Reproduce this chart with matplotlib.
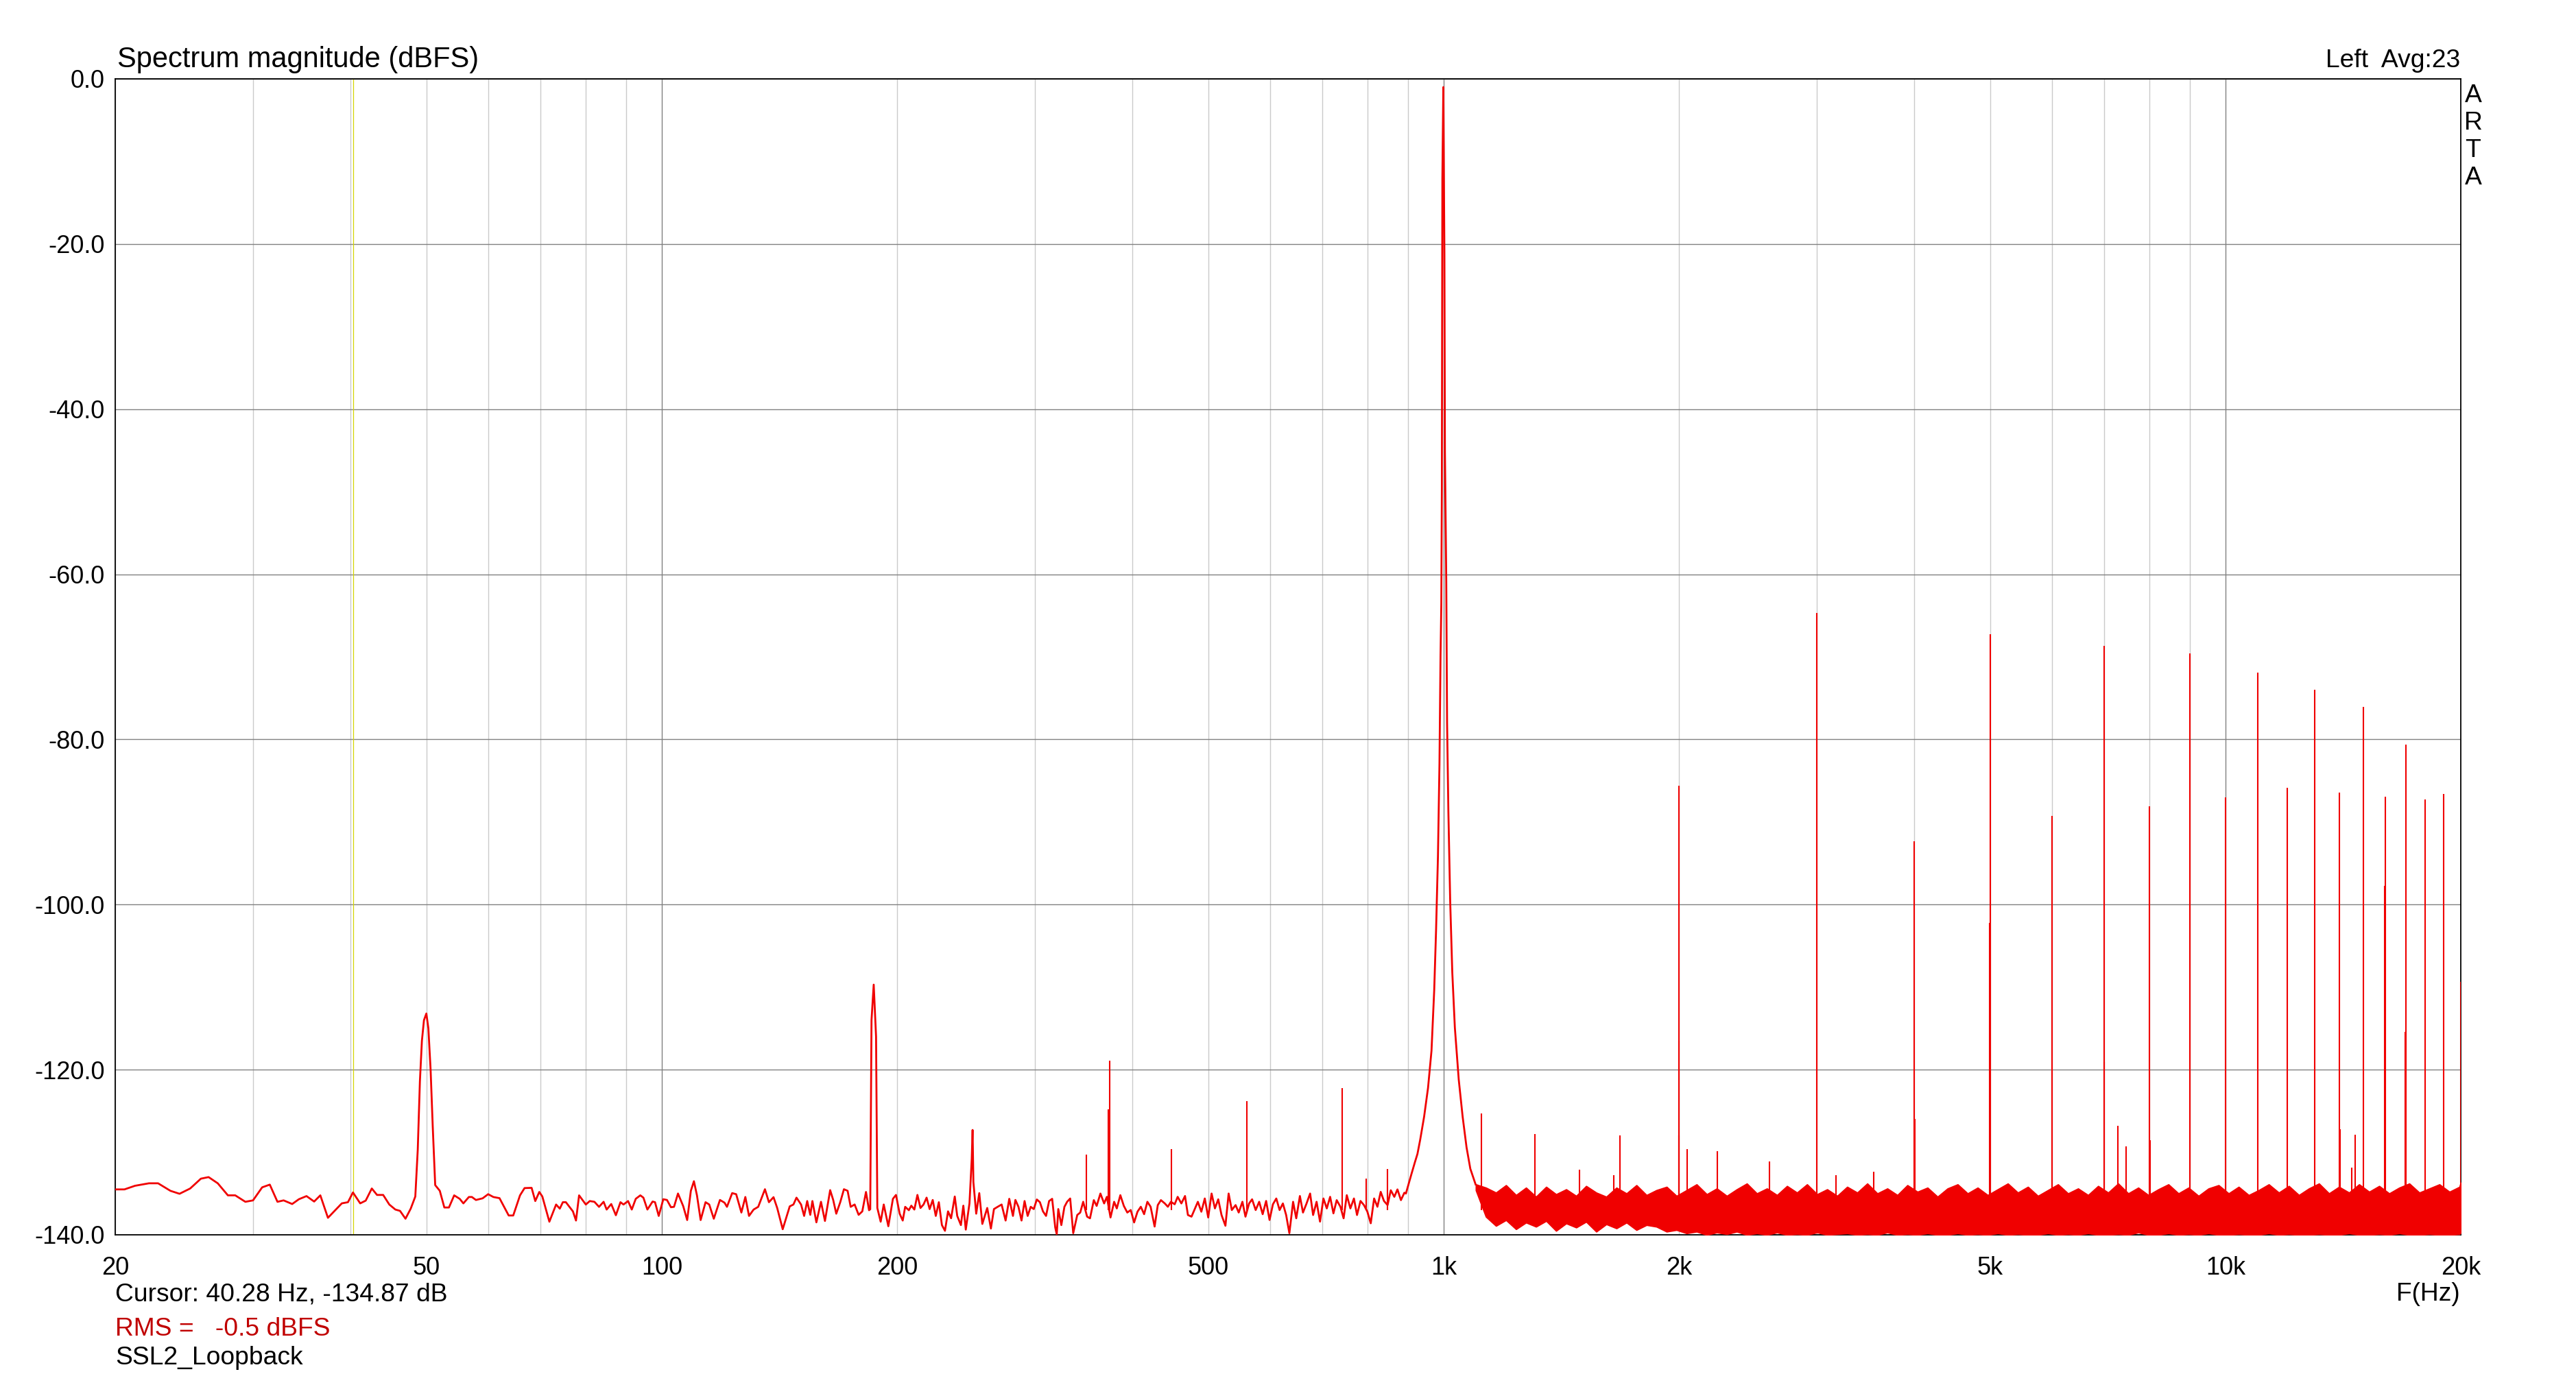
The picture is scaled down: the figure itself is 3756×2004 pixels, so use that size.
import matplotlib
matplotlib.use("Agg")
import matplotlib.pyplot as plt

plt.rcParams['font.family'] = ['Liberation Sans', 'DejaVu Sans']

W, H = 3756, 2004

# spectrum trace, 20 Hz - 80 Hz (incl. 50 Hz hum)
lf_freq = [20.0, 20.55, 21.2, 22.09, 22.69, 23.53, 24.17, 24.94, 25.74, 26.33,
           27.05, 27.87, 28.48, 29.34, 30.01, 30.83, 31.53, 32.25, 32.84, 33.68,
           34.35, 35.13, 35.93, 36.59, 37.42, 38.11, 38.98, 39.69, 40.28, 41.15,
           41.82, 42.58, 43.24, 44.03, 44.83, 45.64, 46.27, 47.02, 47.75, 48.40,
           48.75, 49.06, 49.35, 49.65, 50.0, 50.3, 50.63, 50.95, 51.32, 52.02,
           52.72, 53.44, 54.27, 55.16, 55.76, 56.67, 57.18, 57.86, 59.01, 59.98,
           60.91, 62.02, 63.72, 64.58, 65.88, 66.77, 68.17, 68.91, 69.73, 70.36,
           71.83, 73.27, 74.07, 74.74, 75.41, 76.99, 77.69, 78.40, 79.97, 80.91]
lf_db = [-134.5, -134.5, -134.06, -133.76, -133.76, -134.67, -135.03, -134.39, -133.20, -133.01,
         -133.76, -135.22, -135.22, -136.0, -135.83, -134.25, -133.92, -136.0, -135.83, -136.27,
         -135.69, -135.31, -135.97, -135.22, -137.94, -137.16, -136.19, -136.05, -134.87, -136.19,
         -135.86, -134.39, -135.17, -135.17, -136.33, -136.94, -137.1, -138.05, -136.83, -135.36,
         -129.69, -121.4, -116.5, -114.0, -113.2, -115.0, -120.0, -126.9, -133.98, -134.67,
         -136.69, -136.69, -135.22, -135.64, -136.19, -135.42, -135.42, -135.78, -135.58, -135.08,
         -135.42, -135.56, -137.66, -137.66, -135.22, -134.34, -134.31, -135.91, -134.81, -135.36,
         -138.41, -136.33, -136.83, -136.05, -136.05, -137.16, -138.27, -135.22, -136.33, -135.91]

# 80 Hz - 330 Hz
mid1_freq = [82.02, 83.14, 84.27, 85.03, 86.19, 87.37, 88.56, 89.36, 90.57, 91.56,
             92.64, 93.90, 94.75, 95.87, 97.35, 98.05, 99.12, 100.47, 101.56, 102.76,
             103.69, 104.91, 106.53, 107.79, 108.96, 109.95, 110.94, 112.15, 113.78, 115.02,
             116.58, 118.71, 120.32, 121.19, 123.06, 124.52, 126.44, 127.93, 129.32, 131.08,
             132.87, 135.53, 137.13, 139.0, 140.51, 142.81, 145.80, 147.39, 148.72, 150.75,
             152.11, 153.49, 154.88, 155.86, 157.70, 159.85, 161.73, 164.23, 165.71, 167.21,
             169.18, 171.03, 172.89, 174.45, 176.51, 178.59, 180.53, 182.50, 184.15, 184.8,
             185.5, 186.7, 188.0, 188.7, 190.57, 192.30, 194.92, 197.57, 199.36, 201.53,
             203.36, 204.83, 207.06, 208.56, 210.44, 212.35, 214.27, 216.21, 218.17, 220.14,
             222.14, 224.15, 226.18, 228.23, 230.30, 232.38, 234.49, 237.04, 238.76, 241.36,
             243.10, 244.86, 247.53, 249.2, 249.8, 250.4, 252.49, 254.78, 257.08, 258.94,
             260.82, 263.65, 266.04, 268.94, 272.11, 275.32, 278.31, 281.34, 283.38, 285.95,
             288.54, 291.15, 293.80, 296.46, 299.14, 301.85, 304.59, 307.35, 310.14, 312.95,
             315.78, 318.64, 320.08, 321.53, 324.44, 327.39]
mid1_db = [-136.0, -136.61, -136.0, -136.94, -136.27, -137.63, -136.05, -136.33, -135.91, -136.94,
           -135.64, -135.22, -135.50, -136.94, -135.97, -136.05, -137.71, -135.69, -135.78, -136.66,
           -136.61, -135.0, -136.52, -138.21, -134.67, -133.51, -135.22, -138.21, -136.05, -136.33,
           -138.05, -135.78, -136.11, -136.61, -134.95, -135.08, -137.30, -135.42, -137.71, -136.94,
           -136.61, -134.48, -136.05, -135.44, -136.75, -139.32, -136.55, -136.33, -135.50, -136.33,
           -137.71, -135.91, -137.58, -135.91, -138.49, -136.0, -138.32, -134.59, -135.78, -137.44,
           -136.05, -134.48, -134.67, -136.61, -136.33, -137.58, -137.16, -134.81, -137.02, -136.9,
           -114.0, -109.7, -116.0, -136.75, -138.41, -136.33, -138.96, -135.64, -135.17, -137.44,
           -138.27, -136.61, -137.02, -136.47, -136.94, -135.17, -136.75, -136.33, -135.50, -136.88,
           -135.78, -137.71, -136.05, -138.82, -139.51, -137.16, -137.99, -135.36, -137.71, -138.82,
           -136.47, -139.37, -136.19, -130.8, -127.3, -133.6, -137.44, -134.95, -138.68, -137.71,
           -136.75, -139.24, -136.88, -136.61, -136.33, -138.27, -135.64, -137.71, -135.78, -136.61,
           -138.27, -135.91, -137.71, -136.61, -136.88, -135.72, -136.05, -137.16, -137.71, -135.91,
           -135.64, -139.10, -139.93, -136.88, -138.82, -136.61]

# 330 Hz - 890 Hz
mid2_freq = [330, 333, 336, 340, 343, 346, 350, 353, 357, 360,
             364, 368, 371, 375, 379, 382, 386, 390, 394, 398,
             402, 406, 410, 414, 418, 422, 427, 431, 435, 440,
             444, 448, 453, 457, 462, 467, 471, 476, 481, 485,
             490, 495, 500, 505, 510, 515, 520, 526, 531, 536,
             542, 547, 553, 558, 564, 569, 575, 581, 587, 593,
             599, 605, 611, 617, 623, 629, 635, 642, 648, 655,
             661, 668, 675, 681, 688, 695, 702, 709, 716, 723,
             730, 738, 745, 752, 760, 768, 775, 783, 791, 799,
             807, 815, 823, 831, 839, 848, 856, 865, 873, 882,
             891]
mid2_db = [-136.0, -135.6, -139.8, -137.6, -137.3, -136.0, -137.8, -138.0, -135.8, -136.5,
           -135.0, -136.2, -135.4, -137.9, -136.0, -136.8, -135.2, -136.5, -137.3, -137.0,
           -138.5, -137.2, -136.6, -137.5, -136.0, -136.6, -139.0, -136.4, -135.8, -136.2,
           -136.6, -136.0, -136.3, -135.4, -136.2, -135.3, -137.6, -137.8, -136.8, -136.0,
           -137.2, -135.6, -137.9, -135.0, -136.8, -135.7, -137.6, -138.9, -135.0, -137.0,
           -136.4, -137.3, -136.0, -137.8, -136.2, -135.7, -137.0, -136.0, -137.5, -135.9,
           -138.2, -136.3, -135.6, -137.0, -136.2, -137.6, -139.8, -136.0, -138.0, -135.3,
           -137.3, -136.2, -135.0, -137.6, -136.0, -138.4, -135.6, -136.8, -135.4, -137.4,
           -135.8, -136.6, -138.0, -135.2, -136.8, -135.6, -137.6, -135.9, -136.4, -137.2,
           -138.6, -135.6, -136.6, -134.8, -135.9, -136.4, -134.6, -135.4, -134.5, -135.8,
           -134.9]

# 1 kHz test tone
pk_freq = [895, 901.8, 910, 919.1, 926, 933.4, 944.3, 955.3, 965.1, 972.8,
           978.1, 983.6, 988.0, 991.1, 993.4, 995.0, 996.5, 999.3, 1002.5, 1004.0,
           1008.0, 1010.4, 1014.3, 1019.7, 1026.0, 1033.8, 1045.7, 1057.8, 1070.0, 1082.0,
           1099.0]
pk_db = [-135.0, -133.9, -132.6, -131.2, -130.2, -128.5, -125.7, -122.2, -117.7, -110.4,
         -103.2, -94.2, -83.0, -69.9, -63.6, -49.6, -12.1, -1.0, -21.3, -45.1,
         -60.9, -78.0, -88.8, -99.6, -108.2, -114.9, -121.2, -125.7, -129.4, -132.0,
         -133.9]

# noise floor band above 1.1 kHz (upper / lower edge)
band_freq = [1100, 1133, 1167, 1202, 1238, 1275, 1313, 1353, 1393, 1435,
             1478, 1522, 1568, 1615, 1664, 1714, 1765, 1818, 1872, 1929,
             1986, 2046, 2107, 2171, 2236, 2303, 2372, 2443, 2516, 2592,
             2670, 2750, 2832, 2917, 3005, 3095, 3188, 3283, 3382, 3483,
             3588, 3695, 3806, 3920, 4038, 4159, 4284, 4412, 4545, 4681,
             4821, 4966, 5115, 5269, 5427, 5590, 5757, 5930, 6108, 6291,
             6480, 6674, 6874, 7081, 7293, 7512, 7737, 7970, 8209, 8455,
             8709, 8970, 9239, 9516, 9802, 10096, 10399, 10711, 11032, 11363,
             11704, 12055, 12417, 12789, 13173, 13568, 13975, 14394, 14826, 15271,
             15729, 16201, 16687, 17188, 17703, 18234, 18781, 19345, 19925, 20000]
band_hi = [-133.9, -134.3, -134.9, -134.0, -135.2, -134.3, -135.4, -134.2, -135.1, -134.5,
           -135.3, -134.1, -134.9, -135.4, -134.3, -135.0, -134.0, -135.2, -134.6, -134.2,
           -135.3, -134.6, -133.9, -135.1, -134.4, -135.3, -134.5, -133.8, -135.0, -134.4,
           -135.2, -134.1, -134.9, -133.9, -135.1, -134.5, -135.3, -134.2, -134.9, -133.8,
           -135.0, -134.4, -135.2, -134.0, -134.8, -134.3, -135.4, -134.4, -133.9, -135.0,
           -134.3, -135.2, -134.5, -133.8, -134.9, -134.2, -135.3, -134.6, -133.9, -135.0,
           -134.4, -135.2, -134.1, -134.9, -133.8, -135.0, -134.3, -135.2, -134.5, -133.9,
           -135.0, -134.3, -135.3, -134.4, -134.0, -135.0, -134.2, -135.2, -134.6, -133.9,
           -134.9, -134.1, -135.2, -134.4, -133.8, -135.0, -134.2, -134.9, -133.9, -134.8,
           -134.1, -135.0, -134.3, -133.8, -134.9, -134.4, -133.9, -134.8, -134.2, -133.7]
band_lo = [-134.6, -137.8, -138.9, -138.2, -139.3, -138.5, -139.0, -138.3, -139.5, -138.6,
           -139.1, -138.4, -139.6, -138.7, -139.2, -138.5, -139.4, -138.8, -139.0, -139.6,
           -139.4, -139.8, -139.6, -140.0, -139.7, -139.9, -139.6, -140.0, -139.8, -140.0,
           -139.7, -140.0, -139.9, -140.0, -139.7, -140.0, -139.9, -139.8, -140.0, -139.9,
           -140.0, -139.7, -140.0, -139.9, -140.0, -139.8, -140.0, -140.0, -139.8, -140.0,
           -139.9, -140.0, -139.8, -140.0, -139.9, -140.0, -140.0, -139.8, -140.0, -139.9,
           -140.0, -139.8, -140.0, -140.0, -139.9, -140.0, -139.7, -140.0, -140.0, -139.8,
           -140.0, -139.9, -140.0, -139.8, -140.0, -140.0, -139.9, -140.0, -140.0, -139.8,
           -140.0, -139.9, -140.0, -140.0, -139.9, -140.0, -140.0, -139.8, -140.0, -140.0,
           -139.9, -140.0, -139.8, -140.0, -140.0, -139.9, -140.0, -140.0, -139.9, -139.7]

# harmonics and other discrete lines
spike_freq = [349.2, 372.5, 373.8, 448.8, 560.1, 741.4, 797.0, 848.0, 1118.0, 1308.0,
              1492, 1650, 1681, 1998, 2000, 2002, 2050, 2240, 2612, 3000,
              3176, 3547, 4000, 4003, 4998, 5000, 6000, 7000, 7003, 7284,
              7463, 8000, 8004, 9000, 10000, 11000, 12000, 13000, 14000, 14004,
              14500, 14650, 15000, 15990, 16000, 16990, 17000, 18000, 19000, 20000]
spike_db = [-130.3, -124.8, -118.9, -129.6, -123.8, -122.2, -133.2, -132.0, -125.3, -127.8,
            -132.1, -132.8, -128.0, -128.0, -85.6, -116.5, -129.6, -129.9, -131.1, -64.7,
            -132.8, -132.4, -92.3, -126.0, -102.2, -67.3, -89.3, -68.7, -119.1, -126.8,
            -129.3, -88.1, -128.5, -69.6, -87.0, -71.9, -85.9, -74.0, -86.4, -127.2,
            -131.9, -127.9, -76.1, -97.7, -86.9, -115.4, -80.6, -87.3, -86.6, -109.4]

xtick_freq = [20, 50, 100, 200, 500, 1000, 2000, 5000, 10000, 20000]
xtick_labels = ['20', '50', '100', '200', '500', '1k', '2k', '5k', '10k', '20k']
ytick_vals = [0, -20, -40, -60, -80, -100, -120, -140]
cursor_freq = 40.28

red = '#f00000'

fig = plt.figure(figsize=(W / 100, H / 100), dpi=100)
ax = fig.add_axes([168 / W, 1 - 1801 / H, (3588 - 168) / W, (1801 - 115) / H])
ax.set_xscale('log')
ax.set_xlim(20, 20000)
ax.set_ylim(-140, 0)

# grid
for dec in [10, 100, 1000, 10000]:
    for m in range(1, 10):
        f = dec * m
        if f < 20 or f > 20000:
            continue
        c = '#808080' if m == 1 else '#cacaca'
        ax.axvline(f, color=c, lw=1.0, zorder=0)
for v in ytick_vals:
    ax.axhline(v, color='#808080', lw=1.0, zorder=0)
ax.axvline(cursor_freq, color='#d4d400', lw=0.9, zorder=1)

trace_f = lf_freq + mid1_freq + mid2_freq + pk_freq
trace_db = lf_db + mid1_db + mid2_db + pk_db
ax.plot(trace_f, trace_db, color=red, lw=2.0, zorder=3)
ax.fill_between(band_freq, band_lo, band_hi, color=red, lw=1.5, edgecolor=red, zorder=3)
ax.vlines(spike_freq, -137.0, spike_db, color=red, lw=1.5, zorder=3)

ax.set_xticks(xtick_freq)
ax.set_xticklabels(xtick_labels)
ax.xaxis.set_minor_locator(matplotlib.ticker.NullLocator())
ax.set_yticks(ytick_vals)
ax.set_yticklabels(['%.1f' % v for v in ytick_vals])
ax.tick_params(length=0, labelsize=26, colors='black')
ax.tick_params(axis='x', pad=22)
ax.tick_params(axis='y', pad=11)
for s in ax.spines.values():
    s.set_linewidth(1.3)
    s.set_color('black')

def ftext(x, y, s, size=26.8, **kw):
    fig.text(x / W, 1 - y / H, s, fontsize=size, va='baseline', **kw)

ftext(171, 98, 'Spectrum magnitude (dBFS)', size=30)
ftext(3587, 98, 'Left  Avg:23', ha='right')
for i, ch in enumerate('ARTA'):
    ftext(3606, 149 + 40 * i, ch, ha='center')
ftext(168, 1897, 'Cursor: 40.28 Hz, -134.87 dB')
ftext(3587, 1897, 'F(Hz)', ha='right')
ftext(168, 1948, 'RMS =   -0.5 dBFS', color='#c00000')
ftext(168, 1990, 'SSL2_Loopback')

fig.savefig('out.png', dpi=100)
